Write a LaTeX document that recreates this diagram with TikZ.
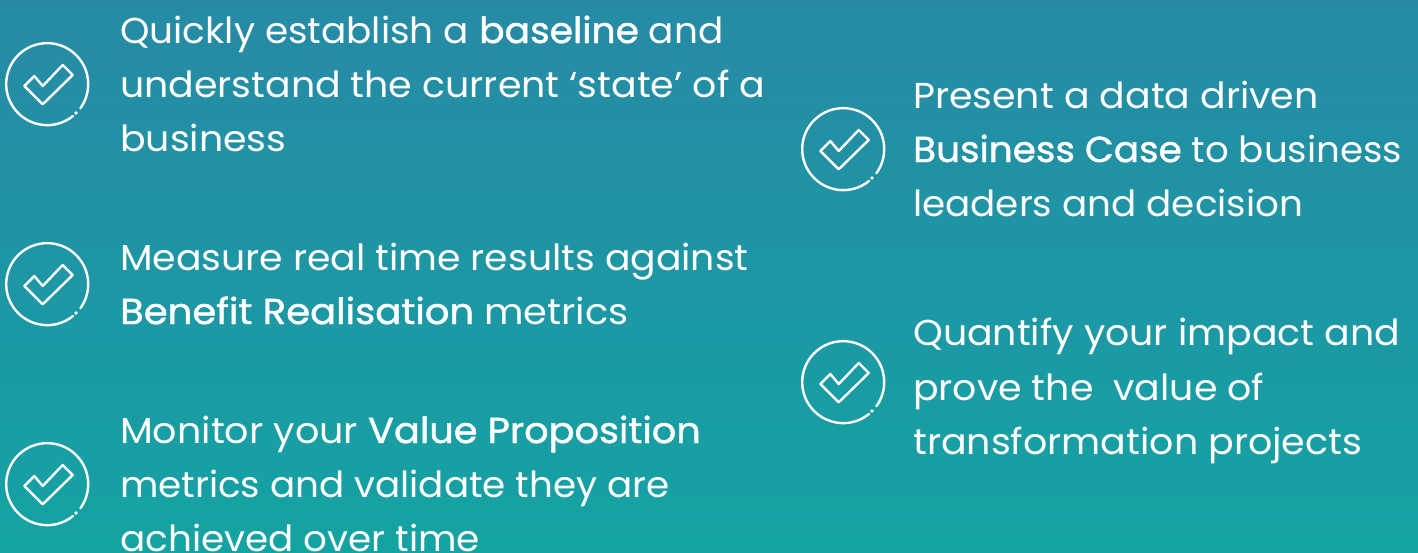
\documentclass[tikz,border=0pt]{standalone}
\usepackage{graphicx}
\usepackage{fontspec}
\setmainfont[FakeStretch=1.052]{Poppins}
\newfontfamily\stressfont[FakeBold=1.2,FakeStretch=1.058]{Poppins}
\newcommand{\stress}[1]{{\stressfont #1}}
\newcommand{\fitx}[2]{\scalebox{#1}[1]{#2}}
\definecolor{bgtop}{RGB}{39,138,165}
\definecolor{bgbottom}{RGB}{20,163,163}
\tikzset{
  x=1pt,y=-1pt,
  txt/.style={anchor=base west,inner sep=0pt,text=white,font=\fontsize{36}{54}\selectfont},
  tick/.pic={
    \draw[white,line width=2.4pt,line cap=round] (25,31) arc[start angle=51,end angle=396,radius=41];
    \fill[white] (28,28) circle[radius=1.8];
    \draw[white,line width=2.4pt,line join=round] (-23.7,1) -- (-13.7,-9) -- (-5.3,1) -- (14.7,-20) -- (24.7,-10) -- (-5.3,19.3) -- cycle;
  }
}
\begin{document}
\begin{tikzpicture}
\useasboundingbox (0,0) rectangle (1418,552);
\clip (0,0) rectangle (1418,552);
\shade[top color=bgtop,bottom color=bgbottom] (0,0) rectangle (1418,552);
\pic at (48,85) {tick};
\pic at (48,285) {tick};
\pic at (48,485) {tick};
\pic at (844,150) {tick};
\pic at (844,383) {tick};
\node[txt] (a1) at (120,43) {\fitx{.988}{Quickly establish a \stress{baseline} and}};
\node[txt] (a2) at (120,97) {understand the current ‘state’ of a};
\node[txt] (a3) at (120,151) {business};
\node[txt] (b1) at (120,270) {\fitx{.997}{Measure real time results against}};
\node[txt] (b2) at (120,324) {\fitx{1.012}{\stress{Benefit Realisation} metrics}};
\node[txt] (c1) at (120,443) {\fitx{1.005}{Monitor your \stress{Value Proposition}}};
\node[txt] (c2) at (120,497) {\fitx{.984}{metrics and validate they are}};
\node[txt] (c3) at (120,551) {\fitx{.986}{achieved over time}};
\node[txt] (d1) at (913,108) {Present a data driven};
\node[txt] (d2) at (913,162) {\fitx{.982}{\stress{Business Case} to business}};
\node[txt] (d3) at (913,216) {\fitx{.985}{leaders and decision}};
\node[txt] (e1) at (913,345) {Quantify your impact and};
\node[txt] (e2) at (913,400) {prove the\ \ value of};
\node[txt] (e3) at (913,454) {\fitx{1.002}{transformation projects}};
\end{tikzpicture}
\end{document}
